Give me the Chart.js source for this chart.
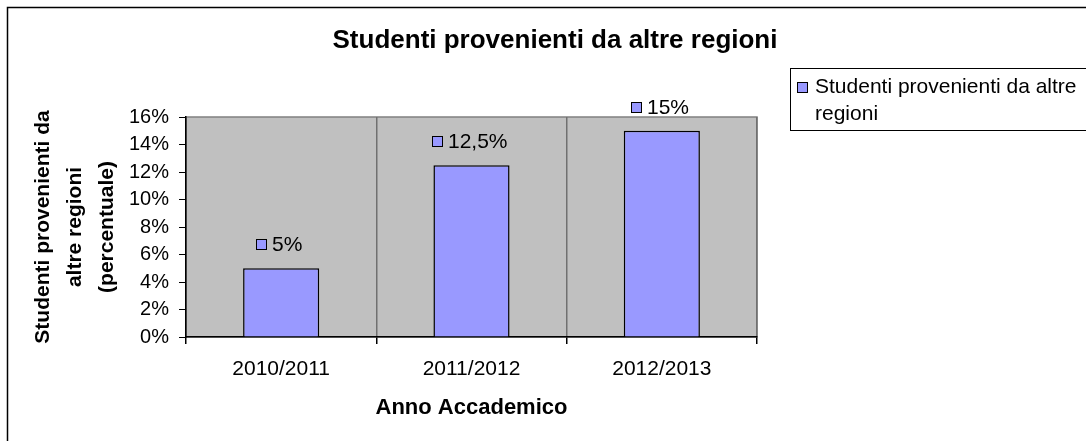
<!DOCTYPE html>
<html>
<head>
<meta charset="utf-8">
<script src="https://cdn.jsdelivr.net/npm/chart.js@4.4.1/dist/chart.umd.min.js"></script>
<style>
  html, body { margin: 0; padding: 0; background: #fff; }
  #chart { display: block; }
</style>
</head>
<body>
<canvas id="chart" width="1086" height="441"></canvas>
<script>
// dati
const categories = ['2010/2011', '2011/2012', '2012/2013'];
const values = [5, 12.5, 15];
const valueLabels = ['5%', '12,5%', '15%'];
const seriesName = 'Studenti provenienti da altre regioni';
const legendLines = ['Studenti provenienti da altre', 'regioni'];
const chartTitle = 'Studenti provenienti da altre regioni';
const yTitle = ['Studenti provenienti da', 'altre regioni', '(percentuale)'];
const xTitle = 'Anno Accademico';

const FONT = 'Arial, "Liberation Sans", sans-serif';
const BAR_COLOR = '#9999FF';

// sfondo grigio dell'area del grafico
const plotBackground = {
    id: 'plotBackground',
    beforeDraw(chart) {
        const { ctx, chartArea: a } = chart;
        ctx.save();
        ctx.fillStyle = '#C0C0C0';
        ctx.fillRect(a.left, a.top, a.right - a.left, a.bottom - a.top);
        ctx.strokeStyle = '#808080';
        ctx.lineWidth = 1.5;
        ctx.strokeRect(a.left, a.top, a.right - a.left, a.bottom - a.top);
        ctx.restore();
    }
};

// cornice, titolo, etichette dei valori e legenda
const extras = {
    id: 'extras',
    afterDraw(chart) {
        const ctx = chart.ctx;
        ctx.save();
        ctx.strokeStyle = '#000';
        ctx.lineWidth = 1.5;
        ctx.strokeRect(7.5, 7.5, 1100, 460);

        ctx.fillStyle = '#000';
        ctx.font = 'bold 26px ' + FONT;
        ctx.textAlign = 'center';
        ctx.textBaseline = 'middle';
        ctx.fillText(chartTitle, 555, 41);

        ctx.font = '21px ' + FONT;
        ctx.textAlign = 'left';
        const meta = chart.getDatasetMeta(0);
        meta.data.forEach((bar, i) => {
            const txt = valueLabels[i];
            const w = ctx.measureText(txt).width;
            const total = 11 + 5 + w;
            const x0 = Math.round(bar.x - total / 2 - 2);
            const y = Math.round(bar.y - 24);
            ctx.fillStyle = BAR_COLOR;
            ctx.fillRect(x0, y - 5, 11, 11);
            ctx.strokeStyle = '#000';
            ctx.lineWidth = 1;
            ctx.strokeRect(x0 + 0.5, y - 4.5, 10, 10);
            ctx.fillStyle = '#000';
            ctx.fillText(txt, x0 + 16, y + 1);
        });

        // legenda
        ctx.strokeStyle = '#000';
        ctx.lineWidth = 1;
        ctx.strokeRect(790.5, 68.5, 320, 62);
        ctx.fillStyle = BAR_COLOR;
        ctx.fillRect(797, 82, 11, 11);
        ctx.strokeRect(797.5, 82.5, 10, 10);
        ctx.fillStyle = '#000';
        ctx.font = '21px ' + FONT;
        ctx.fillText(legendLines[0], 815, 87);
        ctx.fillText(legendLines[1], 815, 114);
        ctx.restore();
    }
};

new Chart(document.getElementById('chart'), {
    type: 'bar',
    data: {
        labels: categories,
        datasets: [{
            label: seriesName,
            data: values,
            backgroundColor: BAR_COLOR,
            borderColor: '#000',
            borderWidth: 1.5,
            barPercentage: 0.4,
            categoryPercentage: 1
        }]
    },
    options: {
        responsive: false,
        animation: false,
        devicePixelRatio: 1,
        layout: { padding: { left: 10, right: 329, top: 117, bottom: 10 } },
        plugins: {
            legend: { display: false },
            title: { display: false },
            tooltip: { enabled: false }
        },
        scales: {
            x: {
                afterFit: (s) => { s.height = 94; },
                grid: { color: '#707070', lineWidth: 1.5, tickColor: '#000', tickLength: 7, offset: true },
                border: { color: '#000', width: 1.5 },
                ticks: { color: '#000', padding: 13, font: { family: FONT, size: 21 } },
                title: {
                    display: true, text: xTitle, color: '#000',
                    font: { family: FONT, size: 22, weight: 'bold' },
                    padding: { top: 0, bottom: 10 }
                }
            },
            y: {
                min: 0,
                max: 16,
                afterFit: (s) => { s.width = 176; },
                grid: { drawOnChartArea: false, tickColor: '#000', tickLength: 7 },
                border: { color: '#000', width: 1.5 },
                ticks: {
                    stepSize: 2, color: '#000', padding: 10,
                    font: { family: FONT, size: 20 },
                    callback: (v) => v + '%'
                },
                title: {
                    display: true, text: yTitle, color: '#000',
                    font: { family: FONT, size: 21, weight: 'bold', lineHeight: 1.52 },
                    padding: { top: 17, bottom: 0 }
                }
            }
        }
    },
    plugins: [plotBackground, extras]
});
</script>
</body>
</html>
